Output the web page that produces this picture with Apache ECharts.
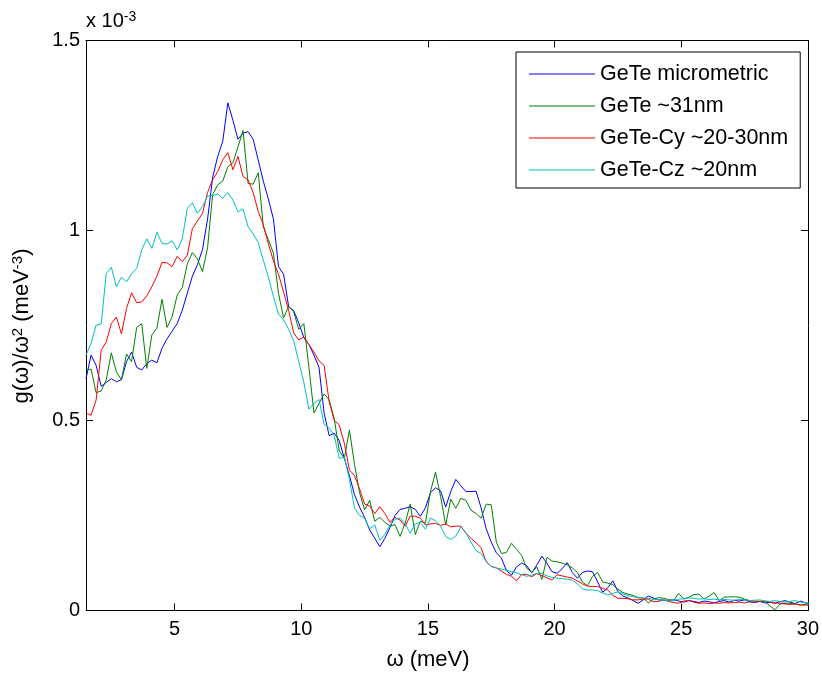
<!DOCTYPE html>
<html><head><meta charset="utf-8">
<script src="https://cdn.jsdelivr.net/npm/echarts@6/dist/echarts.min.js"></script>
<style>html,body{margin:0;padding:0;background:#fff}#c{width:822px;height:675px}</style>
</head><body><div id="c"></div>
<script>
// omega grid (meV)
const omega = [
1.5,1.7,1.9,2.1,2.3,2.5,2.7,2.9,3.1,3.3,
3.5,3.7,3.9,4.1,4.3,4.5,4.7,4.9,5.1,5.3,
5.5,5.7,5.9,6.1,6.3,6.5,6.7,6.9,7.1,7.3,
7.5,7.7,7.9,8.1,8.3,8.5,8.7,8.9,9.1,9.3,
9.5,9.7,9.9,10.1,10.3,10.5,10.7,10.9,11.1,11.3,
11.5,11.7,11.9,12.1,12.3,12.5,12.7,12.9,13.1,13.3,
13.5,13.7,13.9,14.1,14.3,14.5,14.7,14.9,15.1,15.3,
15.5,15.7,15.9,16.1,16.3,16.5,16.7,16.9,17.1,17.3,
17.5,17.7,17.9,18.1,18.3,18.5,18.7,18.9,19.1,19.3,
19.5,19.7,19.9,20.1,20.3,20.5,20.7,20.9,21.1,21.3,
21.5,21.7,21.9,22.1,22.3,22.5,22.7,22.9,23.1,23.3,
23.5,23.7,23.9,24.1,24.3,24.5,24.7,24.9,25.1,25.3,
25.5,25.7,25.9,26.1,26.3,26.5,26.7,26.9,27.1,27.3,
27.5,27.7,27.9,28.1,28.3,28.5,28.7,28.9,29.1,29.3,
29.5,29.7,29.9,30.1];

// g(omega)/omega^2 in units of 1e-3 meV^-3
const gMicro = [
0.610,0.672,0.645,0.590,0.600,0.610,0.602,0.607,0.655,0.680,
0.640,0.633,0.650,0.659,0.652,0.690,0.715,0.735,0.755,0.790,
0.835,0.880,0.910,0.950,1.030,1.140,1.195,1.235,1.336,1.290,
1.240,1.256,1.260,1.240,1.185,1.130,1.083,1.030,0.905,0.885,
0.800,0.789,0.757,0.718,0.700,0.672,0.640,0.520,0.460,0.467,
0.447,0.400,0.355,0.305,0.272,0.245,0.212,0.190,0.168,0.190,
0.218,0.250,0.266,0.269,0.273,0.266,0.248,0.270,0.310,0.323,
0.315,0.272,0.313,0.345,0.328,0.313,0.313,0.314,0.270,0.215,
0.180,0.152,0.138,0.105,0.093,0.115,0.125,0.118,0.099,0.120,
0.143,0.124,0.102,0.098,0.110,0.126,0.100,0.085,0.100,0.104,
0.102,0.075,0.048,0.060,0.078,0.050,0.038,0.033,0.026,0.019,
0.028,0.038,0.033,0.028,0.027,0.026,0.028,0.025,0.022,0.026,
0.024,0.021,0.025,0.023,0.020,0.024,0.026,0.022,0.027,0.025,
0.028,0.023,0.021,0.024,0.020,0.022,0.019,0.023,0.026,0.022,
0.018,0.025,0.020,0.018];

const g31nm = [
0.633,0.635,0.573,0.578,0.607,0.678,0.628,0.607,0.675,0.655,
0.745,0.755,0.637,0.725,0.743,0.819,0.745,0.773,0.830,0.850,
0.912,0.942,0.925,0.892,0.955,1.095,1.120,1.130,1.168,1.178,
1.220,1.263,1.124,1.122,1.152,1.010,0.976,0.940,0.835,0.770,
0.800,0.786,0.740,0.755,0.640,0.520,0.545,0.570,0.554,0.505,
0.420,0.400,0.475,0.385,0.310,0.265,0.290,0.235,0.245,0.232,
0.222,0.226,0.195,0.230,0.280,0.200,0.235,0.230,0.313,0.364,
0.300,0.225,0.293,0.269,0.295,0.290,0.264,0.255,0.243,0.280,
0.278,0.180,0.150,0.153,0.177,0.161,0.145,0.111,0.100,0.115,
0.082,0.140,0.130,0.128,0.125,0.120,0.112,0.100,0.075,0.065,
0.090,0.100,0.075,0.072,0.068,0.056,0.047,0.043,0.040,0.033,
0.033,0.020,0.030,0.034,0.032,0.029,0.026,0.045,0.030,0.035,
0.042,0.043,0.030,0.038,0.047,0.026,0.035,0.036,0.036,0.035,
0.030,0.026,0.025,0.024,0.023,0.012,0.002,0.017,0.019,0.019,
0.017,0.014,0.016,0.018];

const gCy = [
0.519,0.514,0.554,0.685,0.707,0.755,0.772,0.728,0.795,0.836,
0.810,0.812,0.828,0.852,0.880,0.916,0.915,0.905,0.932,0.918,
0.935,1.005,1.025,1.045,1.100,1.134,1.155,1.186,1.205,1.160,
1.195,1.142,1.133,1.100,1.050,1.015,0.965,0.920,0.885,0.838,
0.790,0.730,0.712,0.720,0.700,0.680,0.657,0.645,0.550,0.500,
0.488,0.440,0.370,0.355,0.320,0.280,0.275,0.255,0.273,0.255,
0.232,0.245,0.238,0.222,0.248,0.248,0.243,0.225,0.228,0.229,
0.224,0.228,0.220,0.222,0.222,0.203,0.190,0.178,0.165,0.128,
0.116,0.112,0.104,0.095,0.090,0.078,0.095,0.095,0.089,0.097,
0.092,0.086,0.080,0.094,0.091,0.088,0.085,0.078,0.070,0.064,
0.063,0.063,0.058,0.054,0.040,0.032,0.032,0.031,0.028,0.028,
0.030,0.030,0.023,0.024,0.028,0.024,0.021,0.019,0.025,0.026,
0.022,0.019,0.020,0.018,0.020,0.019,0.021,0.020,0.021,0.022,
0.020,0.023,0.022,0.024,0.025,0.022,0.020,0.019,0.017,0.016,
0.017,0.015,0.014,0.014];

const gCz = [
0.672,0.703,0.751,0.754,0.887,0.903,0.852,0.877,0.865,0.886,
0.900,0.949,0.978,0.953,0.995,0.966,0.964,0.973,0.949,0.978,
1.058,1.073,1.045,1.063,1.091,1.092,1.096,1.085,1.100,1.080,
1.049,1.057,1.010,0.991,0.968,0.922,0.878,0.826,0.780,0.765,
0.740,0.710,0.655,0.600,0.530,0.545,0.555,0.490,0.480,0.460,
0.400,0.405,0.345,0.270,0.250,0.243,0.215,0.225,0.185,0.200,
0.225,0.240,0.243,0.228,0.203,0.228,0.232,0.214,0.243,0.236,
0.222,0.195,0.187,0.196,0.220,0.205,0.180,0.157,0.150,0.130,
0.116,0.112,0.109,0.106,0.102,0.099,0.094,0.090,0.093,0.098,
0.098,0.091,0.087,0.085,0.084,0.082,0.080,0.070,0.057,0.054,
0.054,0.052,0.046,0.041,0.045,0.049,0.044,0.039,0.036,0.035,
0.033,0.032,0.030,0.028,0.027,0.027,0.026,0.030,0.031,0.033,
0.032,0.030,0.031,0.029,0.030,0.028,0.029,0.028,0.027,0.029,
0.028,0.026,0.027,0.028,0.025,0.024,0.026,0.023,0.022,0.024,
0.026,0.022,0.020,0.020];

const seriesNames = ['GeTe micrometric', 'GeTe ~31nm', 'GeTe-Cy ~20-30nm', 'GeTe-Cz ~20nm'];
const seriesValues = [gMicro, g31nm, gCy, gCz];
const seriesColors = ['#0000FF', '#008000', '#FF0000', '#00BFBF'];
const xTicks = [5, 10, 15, 20, 25, 30];

const FONT = 'Liberation Sans, Arial, sans-serif';
const chart = echarts.init(document.getElementById('c'), null, {renderer: 'canvas'});

const axisLineStyle = {show: true, onZero: false, lineStyle: {color: '#000', width: 1}};
const tickStyle = {show: true, inside: true, length: 7, lineStyle: {color: '#000', width: 1}};
const supRich = {
  a: {fontSize: 22, fontFamily: FONT, fill: '#000', lineHeight: 24},
  s: {fontSize: 15, fontFamily: FONT, fill: '#000', verticalAlign: 'top', lineHeight: 15}
};

const option = {
  animation: false,
  backgroundColor: '#fff',
  grid: {left: 86, right: 14, top: 40.5, bottom: 64.5, containLabel: false},
  xAxis: [
    {type: 'value', position: 'bottom', min: 1.5, max: 30,
     axisLine: axisLineStyle,
     axisTick: Object.assign({customValues: xTicks}, tickStyle),
     axisLabel: {customValues: xTicks, color: '#000', fontSize: 20, fontFamily: FONT, margin: 9},
     splitLine: {show: false}},
    {type: 'value', position: 'top', min: 1.5, max: 30,
     axisLine: axisLineStyle,
     axisTick: Object.assign({customValues: xTicks}, tickStyle),
     axisLabel: {show: false},
     splitLine: {show: false}}
  ],
  yAxis: [
    {type: 'value', position: 'left', min: 0, max: 1.5, interval: 0.5,
     axisLine: axisLineStyle, axisTick: tickStyle,
     axisLabel: {color: '#000', fontSize: 20, fontFamily: FONT, margin: 6},
     splitLine: {show: false}},
    {type: 'value', position: 'right', min: 0, max: 1.5, interval: 0.5,
     axisLine: axisLineStyle, axisTick: tickStyle,
     axisLabel: {show: false},
     splitLine: {show: false}}
  ],
  legend: {
    orient: 'vertical', left: 516, top: 52,
    padding: [11, 12, 7, 13],
    itemGap: 10, itemWidth: 66, itemHeight: 1, itemTextGap: 7,
    icon: 'rect',
    borderColor: '#000', borderWidth: 1, backgroundColor: '#fff',
    textStyle: {color: '#000', fontSize: 21.5, fontFamily: FONT},
    data: seriesNames
  },
  graphic: [
    {type: 'text', x: 22, y: 326, rotation: Math.PI / 2,
     style: {text: '{a|g(ω)/ω}{s|2}{a| (meV}{s|-3}{a|)}', align: 'center', verticalAlign: 'middle', rich: supRich}},
    {type: 'text', x: 428, y: 660,
     style: {text: 'ω (meV)', align: 'center', verticalAlign: 'middle', fontSize: 22, fontFamily: FONT, fill: '#000'}},
    {type: 'text', x: 86, y: 21,
     style: {text: '{a|x 10}{s|-3}', align: 'left', verticalAlign: 'middle',
       rich: {a: {fontSize: 20, fontFamily: FONT, fill: '#000', lineHeight: 22},
              s: {fontSize: 14, fontFamily: FONT, fill: '#000', verticalAlign: 'top', lineHeight: 14}}}}
  ],
  series: seriesNames.map((name, k) => ({
    name: name, type: 'line', xAxisIndex: 0, yAxisIndex: 0,
    symbol: 'none', clip: true,
    lineStyle: {color: seriesColors[k], width: 1},
    itemStyle: {color: seriesColors[k]},
    data: omega.map((w, i) => [w, seriesValues[k][i]])
  }))
};
chart.setOption(option);
</script>
</body></html>
